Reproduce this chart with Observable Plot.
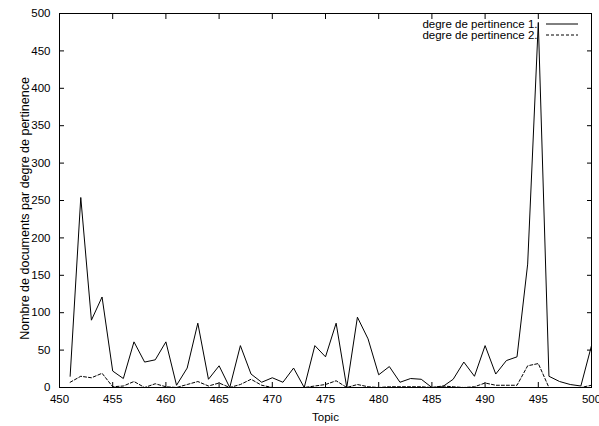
<!DOCTYPE html>
<html>
<head>
<meta charset="utf-8">
<script src="https://cdn.jsdelivr.net/npm/d3@7"></script>
<script src="https://cdn.jsdelivr.net/npm/@observablehq/plot@0.6"></script>
<style>
  html, body { margin: 0; padding: 0; background: #fff; }
  svg { display: block; }
</style>
</head>
<body>
<div id="chart"></div>
<script>
const topics = d3.range(451, 501);
const pert1 = [15, 254, 90, 121, 22, 12, 61, 34, 37, 61,
               3, 26, 86, 11, 29, 0, 56, 18, 7, 13,
               7, 26, 0, 56, 41, 86, 0, 94, 65, 17,
               28, 7, 12, 11, 0, 1, 11, 34, 15, 56,
               18, 36, 41, 165, 488, 15, 8, 4, 2, 56];
const pert2 = [7, 15, 13, 19, 1, 2, 8, 0, 5, 1,
               0, 4, 8, 2, 6, 0, 4, 11, 3, 0,
               0, 0, 0, 2, 4, 9, 0, 4, 1, 0,
               1, 1, 1, 1, 0, 2, 1, 0, 1, 6,
               3, 3, 3, 29, 32, 0, 0, 0, 0, 3];
const seriesNames = ["degre de pertinence 1.", "degre de pertinence 2."];
const xTicks = d3.range(450, 501, 5);
const yTicks = d3.range(0, 501, 50);
const yTitle = "Nombre de documents par degre de pertinence";

const d1 = topics.map((t, i) => ({topic: t, value: pert1[i]}));
const d2 = topics.map((t, i) => ({topic: t, value: pert2[i]}));

const font = "Liberation Sans, Arial, Helvetica, sans-serif";
const chart = Plot.plot({
  width: 599,
  height: 426,
  marginLeft: 59,
  marginRight: 8,
  marginTop: 13,
  marginBottom: 39,
  style: {fontFamily: font, fontSize: "11.5px", color: "#000", background: "#fff"},
  x: {domain: [450, 500]},
  y: {domain: [0, 500]},
  marks: [
    Plot.axisX(xTicks, {anchor: "bottom", tickSize: 0, tickPadding: 7, label: "Topic", labelAnchor: "center", labelArrow: "none", labelOffset: 33}),
    Plot.axisX(xTicks, {anchor: "bottom", tickSize: -5, tickFormat: () => "", label: null}),
    Plot.axisX(xTicks, {anchor: "top", tickSize: -5, tickFormat: () => "", label: null}),
    Plot.axisY(yTicks, {anchor: "left", tickSize: 0, tickPadding: 9, label: null}),
    Plot.axisY(yTicks, {anchor: "left", tickSize: -5, tickFormat: () => "", label: null}),
    Plot.axisY(yTicks, {anchor: "right", tickSize: -5, tickFormat: () => "", label: null}),
    Plot.text([yTitle], {frameAnchor: "left", text: d => d, rotate: -90, textAnchor: "middle", lineAnchor: "middle", dx: -35, dy: 8, fontSize: 12.5}),
    Plot.frame({stroke: "#000", strokeWidth: 1}),
    Plot.line(d1, {x: "topic", y: "value", stroke: "#000", strokeWidth: 1}),
    Plot.line(d2, {x: "topic", y: "value", stroke: "#000", strokeWidth: 1, strokeDasharray: "3,2"}),
    Plot.text([seriesNames[0]], {frameAnchor: "top-right", text: d => d, textAnchor: "end", lineAnchor: "middle", dx: -54, dy: 11, fontSize: 11.5}),
    Plot.text([seriesNames[1]], {frameAnchor: "top-right", text: d => d, textAnchor: "end", lineAnchor: "middle", dx: -54, dy: 22, fontSize: 11.5})
  ]
});
document.getElementById("chart").appendChild(chart);

// legend line samples
const svg = d3.select(chart);
const right = 599 - 8;
[[0, null], [1, "3,2"]].forEach(([i, dash]) => {
  const yy = 13 + 11 + i * 11;
  const ln = svg.append("line")
    .attr("x1", right - 45).attr("x2", right - 13)
    .attr("y1", yy).attr("y2", yy)
    .attr("stroke", "#000").attr("stroke-width", 1);
  if (dash) ln.attr("stroke-dasharray", dash);
});
</script>
</body>
</html>
